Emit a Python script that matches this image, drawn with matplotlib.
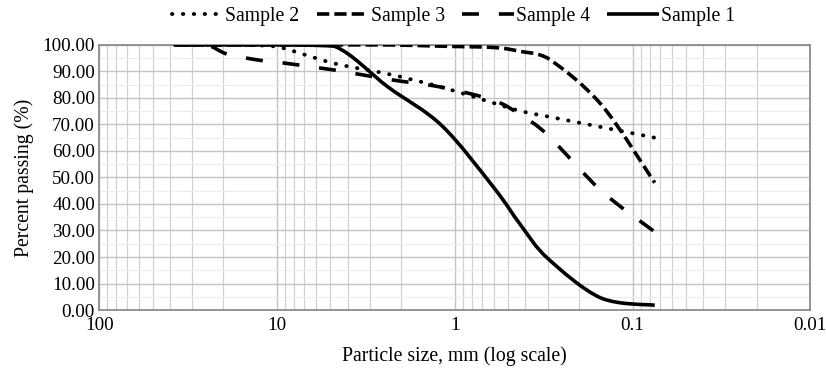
import matplotlib
matplotlib.use("Agg")
import matplotlib.pyplot as plt
import numpy as np
from matplotlib.path import Path
from matplotlib.patches import PathPatch
from matplotlib.lines import Line2D
from matplotlib.ticker import FixedLocator, FuncFormatter, MultipleLocator

plt.rcParams['font.family'] = ['Liberation Serif', 'DejaVu Serif']

# sieve sizes (mm)
sizes = [37.5, 25, 19, 12.5, 9.5, 4.75, 2.36, 1.18, 0.6, 0.425, 0.3, 0.15, 0.075]

# percent passing
sample1 = [100, 100, 100, 100, 100, 99.5, 84.0, 69.5, 46.0, 32.0, 19.5, 4.5, 1.8]
sample2 = [100, 100, 100, 99.8, 99.0, 93.0, 89.0, 84.0, 78.0, 75.0, 73.0, 69.0, 65.0]
sample3 = [100, 100, 100, 100, 100, 100, 100, 99.5, 99.0, 97.5, 95.0, 77.5, 48.0]
sample4 = [100, 100, 96.5, 94.2, 93.3, 90.5, 87.0, 84.0, 79.0, 73.5, 66.0, 45.0, 29.5]

x_ticks = [100, 10, 1, 0.1, 0.01]
y_ticks = list(range(0, 101, 10))


def smooth_path(xs, ys):
    # Excel-style smoothed line: bezier segments, tangents from neighbours (log-x space),
    # control points kept inside each segment's y range so flat parts don't bulge
    lx = np.log10(xs)
    y = np.asarray(ys, float)
    n = len(lx)
    verts = [(xs[0], y[0])]
    codes = [Path.MOVETO]
    t = 1.0 / 6.0
    for i in range(n - 1):
        p0 = max(i - 1, 0)
        p3 = min(i + 2, n - 1)
        lo, hi = min(y[i], y[i + 1]), max(y[i], y[i + 1])
        c1x = lx[i] + (lx[i + 1] - lx[p0]) * t
        c1y = np.clip(y[i] + (y[i + 1] - y[p0]) * t, lo, hi)
        c2x = lx[i + 1] - (lx[p3] - lx[i]) * t
        c2y = np.clip(y[i + 1] - (y[p3] - y[i]) * t, lo, hi)
        verts += [(10 ** c1x, c1y), (10 ** c2x, c2y), (xs[i + 1], y[i + 1])]
        codes += [Path.CURVE4] * 3
    return Path(verts, codes)


fig = plt.figure(figsize=(8.26, 3.74), dpi=100)
ax = fig.add_axes([0.12, 0.171, 0.861, 0.709])
ax.set_xscale('log')
ax.set_xlim(100, 0.01)
ax.set_ylim(0, 100)

names = ['Sample 2', 'Sample 3', 'Sample 4', 'Sample 1']
data = {'Sample 2': sample2, 'Sample 3': sample3, 'Sample 4': sample4, 'Sample 1': sample1}
styles = {
    'Sample 2': dict(ls=(0, (0.1, 2.7)), lw=2.8, cap='round'),
    'Sample 3': dict(ls=(0, (3.4, 1.4)), lw=2.6, cap='butt'),
    'Sample 4': dict(ls=(0, (4.7, 5.5)), lw=2.6, cap='butt'),
    'Sample 1': dict(ls='-', lw=2.6, cap='butt'),
}

handles = []
for name in names:
    st = styles[name]
    ax.add_patch(PathPatch(smooth_path(sizes, data[name]), facecolor='none', edgecolor='black',
                           lw=st['lw'], linestyle=st['ls'], capstyle=st['cap'], zorder=3))
    handles.append(Line2D([], [], color='black', lw=st['lw'], linestyle=st['ls'],
                          dash_capstyle=st['cap'], solid_capstyle='butt'))

ax.xaxis.set_major_locator(FixedLocator(x_ticks))
ax.xaxis.set_major_formatter(FuncFormatter(lambda v, p: '%g' % v))
ax.xaxis.set_minor_formatter(FuncFormatter(lambda v, p: ''))
ax.yaxis.set_major_locator(FixedLocator(y_ticks))
ax.yaxis.set_major_formatter(FuncFormatter(lambda v, p: '%.2f' % v))
ax.yaxis.set_minor_locator(MultipleLocator(5))

ax.grid(True, which='major', color='#c4c4c4', lw=1.0)
ax.grid(True, which='minor', axis='x', color='#d0d0d0', lw=0.9)
ax.grid(True, which='minor', axis='y', color='#ececec', lw=0.8)
ax.set_axisbelow(True)

ax.tick_params(which='both', length=0, labelsize=13.8, pad=3)
ax.tick_params(axis='x', pad=5)
for s in ax.spines.values():
    s.set_color('#8c8c8c')
    s.set_linewidth(1.3)

ax.set_xlabel('Particle size, mm (log scale)', fontsize=14.2, labelpad=9)
ax.set_ylabel('Percent passing (%)', fontsize=14.2, labelpad=6)

fig.legend(handles, names, loc='upper center',
           bbox_to_anchor=(0.549, 1.03), ncol=4, frameon=False, fontsize=14.2,
           handlelength=2.6, handletextpad=0.1, columnspacing=0.9)

fig.savefig('out.png', dpi=100)
